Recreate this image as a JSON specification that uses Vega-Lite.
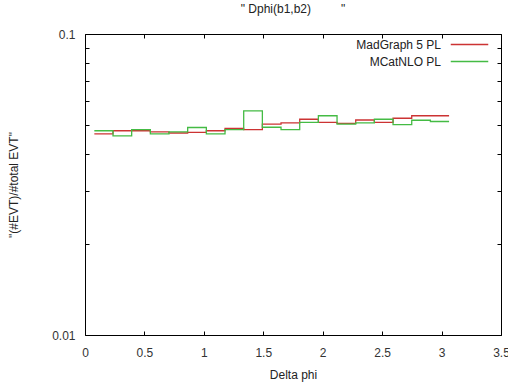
{
  "$schema": "https://vega.github.io/schema/vega-lite/v6.json",
  "width": 416,
  "height": 301,
  "autosize": "none",
  "padding": {"left": 85, "top": 34, "right": 7, "bottom": 52},
  "background": "white",
  "title": {"text": "\" Dphi(b1,b2)\u00a0\u00a0\u00a0\u00a0\u00a0\u00a0\u00a0\u00a0\u00a0\"", "fontSize": 12, "fontWeight": "normal", "font": "Liberation Sans", "color": "#222", "offset": 12, "anchor": "middle"},
  "config": {
    "view": {"stroke": "#000", "strokeWidth": 1},
    "axis": {"grid": false, "domain": false, "labelFont": "Liberation Sans", "titleFont": "Liberation Sans", "labelFontSize": 12, "titleFontSize": 12, "titleFontWeight": "normal", "labelColor": "#333", "titleColor": "#222", "tickColor": "#000"}
  },
  "data": {"values": [
    {"x": 0.0785, "v": 0.0466, "s": "MadGraph 5 PL"},
    {"x": 0.2356, "v": 0.0477, "s": "MadGraph 5 PL"},
    {"x": 0.3927, "v": 0.0477, "s": "MadGraph 5 PL"},
    {"x": 0.5498, "v": 0.0473, "s": "MadGraph 5 PL"},
    {"x": 0.7069, "v": 0.0469, "s": "MadGraph 5 PL"},
    {"x": 0.8639, "v": 0.0471, "s": "MadGraph 5 PL"},
    {"x": 1.0210, "v": 0.0477, "s": "MadGraph 5 PL"},
    {"x": 1.1781, "v": 0.0486, "s": "MadGraph 5 PL"},
    {"x": 1.3352, "v": 0.0481, "s": "MadGraph 5 PL"},
    {"x": 1.4923, "v": 0.0502, "s": "MadGraph 5 PL"},
    {"x": 1.6493, "v": 0.0507, "s": "MadGraph 5 PL"},
    {"x": 1.8064, "v": 0.0521, "s": "MadGraph 5 PL"},
    {"x": 1.9635, "v": 0.0509, "s": "MadGraph 5 PL"},
    {"x": 2.1206, "v": 0.0505, "s": "MadGraph 5 PL"},
    {"x": 2.2777, "v": 0.0518, "s": "MadGraph 5 PL"},
    {"x": 2.4347, "v": 0.0509, "s": "MadGraph 5 PL"},
    {"x": 2.5918, "v": 0.0525, "s": "MadGraph 5 PL"},
    {"x": 2.7489, "v": 0.0535, "s": "MadGraph 5 PL"},
    {"x": 2.9060, "v": 0.0535, "s": "MadGraph 5 PL"},
    {"x": 3.0631, "v": 0.0535, "s": "MadGraph 5 PL"},
    {"x": 0.0785, "v": 0.0477, "s": "MCatNLO PL"},
    {"x": 0.2356, "v": 0.0459, "s": "MCatNLO PL"},
    {"x": 0.3927, "v": 0.0481, "s": "MCatNLO PL"},
    {"x": 0.5498, "v": 0.0466, "s": "MCatNLO PL"},
    {"x": 0.7069, "v": 0.0473, "s": "MCatNLO PL"},
    {"x": 0.8639, "v": 0.0489, "s": "MCatNLO PL"},
    {"x": 1.0210, "v": 0.0466, "s": "MCatNLO PL"},
    {"x": 1.1781, "v": 0.0481, "s": "MCatNLO PL"},
    {"x": 1.3352, "v": 0.0555, "s": "MCatNLO PL"},
    {"x": 1.4923, "v": 0.0490, "s": "MCatNLO PL"},
    {"x": 1.6493, "v": 0.0481, "s": "MCatNLO PL"},
    {"x": 1.8064, "v": 0.0509, "s": "MCatNLO PL"},
    {"x": 1.9635, "v": 0.0535, "s": "MCatNLO PL"},
    {"x": 2.1206, "v": 0.0502, "s": "MCatNLO PL"},
    {"x": 2.2777, "v": 0.0507, "s": "MCatNLO PL"},
    {"x": 2.4347, "v": 0.0521, "s": "MCatNLO PL"},
    {"x": 2.5918, "v": 0.0500, "s": "MCatNLO PL"},
    {"x": 2.7489, "v": 0.0517, "s": "MCatNLO PL"},
    {"x": 2.9060, "v": 0.0512, "s": "MCatNLO PL"},
    {"x": 3.0631, "v": 0.0512, "s": "MCatNLO PL"}
  ]},
  "resolve": {"axis": {"x": "independent", "y": "independent"}},
  "layer": [
    {
      "mark": {"type": "line", "interpolate": "step-after", "strokeWidth": 1.3},
      "encoding": {
        "x": {"field": "x", "type": "quantitative", "scale": {"domain": [0, 3.5], "nice": false, "zero": false},
          "axis": {"orient": "bottom", "title": "Delta phi", "values": [0, 0.5, 1, 1.5, 2, 2.5, 3, 3.5], "format": "~g", "tickSize": -4, "labelPadding": 16, "titlePadding": 11, "labelFlush": false, "labelOverlap": false}},
        "y": {"field": "v", "type": "quantitative", "scale": {"type": "log", "domain": [0.01, 0.1], "nice": false},
          "axis": {"orient": "left", "title": "\"(#EVT)/#total EVT\"", "values": [0.01, 0.02, 0.03, 0.04, 0.05, 0.06, 0.07, 0.08, 0.09, 0.1], "labelExpr": "datum.value == 0.01 || datum.value == 0.1 ? format(datum.value, '.2~f') : ''", "tickSize": {"condition": {"test": "datum.value == 0.01 || datum.value == 0.1", "value": -7}, "value": -4}, "labelPadding": 17, "titlePadding": 31, "labelOverlap": false, "labelFlush": false}},
        "color": {"field": "s", "type": "nominal", "scale": {"domain": ["MadGraph 5 PL", "MCatNLO PL"], "range": ["#cc3333", "#44bb44"]},
          "legend": {"title": null, "orient": "none", "legendX": 376, "legendY": 2, "direction": "vertical", "symbolType": "M-2.5,0H2.5", "symbolSize": 225, "symbolStrokeWidth": 1.3, "symbolFillColor": "transparent", "labelAlign": "right", "labelOffset": -37, "labelFont": "Liberation Sans", "labelFontSize": 12, "labelColor": "#222", "rowPadding": 2, "labelLimit": 200}}
      }
    },
    {
      "mark": {"type": "line", "interpolate": "step-after", "strokeOpacity": 0},
      "encoding": {
        "x": {"field": "x", "type": "quantitative", "scale": {"domain": [0, 3.5], "nice": false, "zero": false},
          "axis": {"orient": "top", "title": null, "values": [0, 0.5, 1, 1.5, 2, 2.5, 3, 3.5], "labels": false, "tickSize": -4}},
        "y": {"field": "v", "type": "quantitative", "scale": {"type": "log", "domain": [0.01, 0.1], "nice": false},
          "axis": {"orient": "right", "title": null, "values": [0.01, 0.02, 0.03, 0.04, 0.05, 0.06, 0.07, 0.08, 0.09, 0.1], "labels": false, "tickSize": {"condition": {"test": "datum.value == 0.01 || datum.value == 0.1", "value": -7}, "value": -4}}}
      }
    }
  ]
}
